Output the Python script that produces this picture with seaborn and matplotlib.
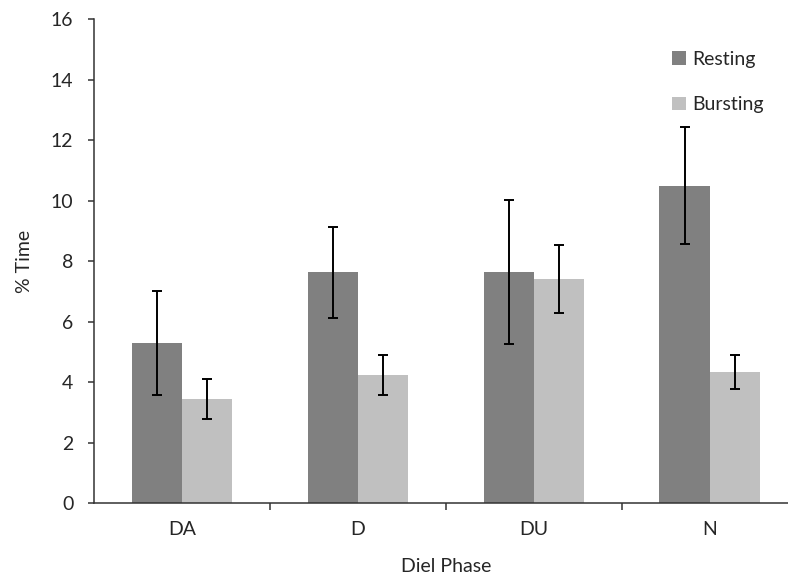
import matplotlib
matplotlib.use("Agg")
import matplotlib.pyplot as plt
import seaborn as sns
import pandas as pd
import numpy as np

phases = ["DA", "D", "DU", "N"]
resting = [5.29, 7.63, 7.63, 10.49]
resting_err = [1.72, 1.50, 2.38, 1.93]
bursting = [3.45, 4.25, 7.41, 4.33]
bursting_err = [0.65, 0.66, 1.13, 0.57]
series = ["Resting", "Bursting"]
colors = ["#808080", "#c0c0c0"]
yticks = [0, 2, 4, 6, 8, 10, 12, 14, 16]

df = pd.DataFrame({
    "phase": phases * 2,
    "value": resting + bursting,
    "err": resting_err + bursting_err,
    "series": ["Resting"] * 4 + ["Bursting"] * 4,
})

sns.set_style("white")
plt.rcParams["font.family"] = ["Lato", "DejaVu Sans"]
FS = 14
TXT = "#262626"

fig = plt.figure(figsize=(7.88, 5.82), dpi=100)
ax = fig.add_axes([94.3 / 788, (582 - 503.3) / 582, (797.5 - 94.3) / 788, (503.3 - 19) / 582])

sns.barplot(data=df, x="phase", y="value", hue="series", order=phases,
            hue_order=series, palette=colors, width=0.57, errorbar=None,
            saturation=1, ax=ax, edgecolor="none", linewidth=0)

# error bars at bar centers
for i, s in enumerate(series):
    sub = df[df.series == s].set_index("phase").loc[phases]
    bars = ax.containers[i]
    xs = [b.get_x() + b.get_width() / 2 for b in bars]
    ax.errorbar(xs, sub["value"].values, yerr=sub["err"].values, fmt="none",
                ecolor="black", elinewidth=1.4, capsize=3.7, capthick=1.4, zorder=5)

ax.set_xlim(-0.5, 3.5)
ax.set_ylim(0, 16)
ax.set_yticks(yticks)
ax.set_xticks(np.arange(len(phases)))
ax.set_xticklabels(phases)
ax.set_xticks([0.5, 1.5, 2.5], minor=True)

for sp in ["top", "right"]:
    ax.spines[sp].set_visible(False)
for sp in ["left", "bottom"]:
    ax.spines[sp].set_color("#333333")
    ax.spines[sp].set_linewidth(1.1)

ax.tick_params(axis="y", which="major", direction="out", length=4, width=1.1,
               color="#333333", labelsize=FS, pad=11, left=True, labelcolor=TXT)
ax.tick_params(axis="x", which="major", length=0, labelsize=FS, pad=13, labelcolor=TXT)
ax.tick_params(axis="x", which="minor", direction="out", length=5, width=1.1,
               color="#333333", bottom=True)

ax.set_xlabel("Diel Phase", fontsize=FS, color=TXT, labelpad=14)
ax.set_ylabel("% Time", fontsize=FS, color=TXT, labelpad=13)

leg = ax.legend(loc="upper left", bbox_to_anchor=(672 / 788, (582 - 51) / 582),
                bbox_transform=fig.transFigure, frameon=False, fontsize=FS,
                handlelength=0.7, handleheight=0.7, handletextpad=0.33,
                labelspacing=1.45, borderpad=0, borderaxespad=0)
for t in leg.get_texts():
    t.set_color(TXT)

fig.savefig("out.png", dpi=100)
